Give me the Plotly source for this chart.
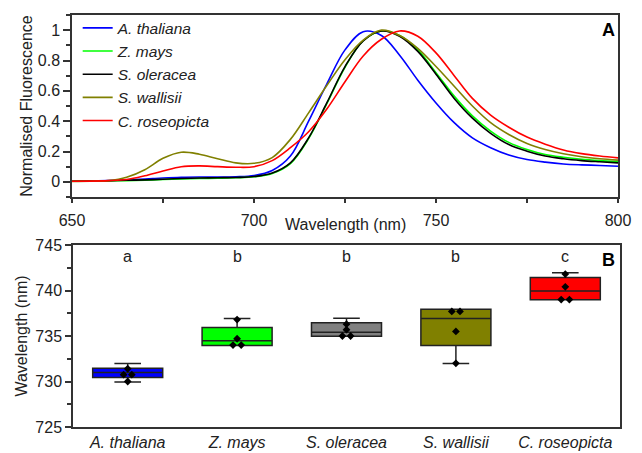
import plotly.graph_objects as go

# ---------------- data: panel A (emission spectra) ----------------
wavelength = list(range(650, 805, 5))

a_thaliana = [0.005, 0.006, 0.009, 0.013, 0.018, 0.025, 0.030, 0.032, 0.032, 0.034,
              0.042, 0.075, 0.17, 0.40, 0.645, 0.87, 0.99, 0.965, 0.835, 0.67,
              0.52, 0.39, 0.29, 0.225, 0.177, 0.147, 0.13, 0.118, 0.112, 0.108, 0.103]
z_mays = [0.004, 0.005, 0.006, 0.008, 0.011, 0.015, 0.019, 0.022, 0.024, 0.027,
          0.033, 0.055, 0.12, 0.285, 0.515, 0.755, 0.93, 0.995, 0.965, 0.87,
          0.72, 0.565, 0.435, 0.335, 0.26, 0.213, 0.18, 0.162, 0.149, 0.14, 0.133]
s_oleracea = [0.004, 0.005, 0.007, 0.010, 0.013, 0.017, 0.022, 0.025, 0.027, 0.029,
              0.035, 0.058, 0.125, 0.29, 0.52, 0.76, 0.93, 0.995, 0.96, 0.86,
              0.71, 0.55, 0.42, 0.32, 0.246, 0.202, 0.17, 0.152, 0.14, 0.132, 0.125]
s_wallisii = [0.003, 0.004, 0.008, 0.03, 0.08, 0.155, 0.195, 0.182, 0.152, 0.125,
              0.122, 0.16, 0.28, 0.455, 0.635, 0.805, 0.935, 1.0, 0.965, 0.88,
              0.76, 0.63, 0.50, 0.39, 0.312, 0.253, 0.213, 0.185, 0.165, 0.152, 0.143]
c_roseopicta = [0.004, 0.005, 0.008, 0.015, 0.04, 0.072, 0.10, 0.105, 0.10, 0.096,
                0.10, 0.14, 0.225, 0.33, 0.48, 0.66, 0.83, 0.94, 0.995, 0.96,
                0.85, 0.70, 0.55, 0.44, 0.36, 0.295, 0.248, 0.21, 0.186, 0.17, 0.158]

species = ["A. thaliana", "Z. mays", "S. oleracea", "S. wallisii", "C. roseopicta"]
spectra = [a_thaliana, z_mays, s_oleracea, s_wallisii, c_roseopicta]
line_colors = ["#0000FF", "#00FF00", "#000000", "#808000", "#FF0000"]
box_colors = ["#0000FF", "#00FF00", "#808080", "#808000", "#FF0000"]

# ---------------- data: panel B (peak wavelength boxes) ----------------
q1 = [730.45, 733.95, 734.98, 733.95, 738.98]
median = [731.0, 734.47, 735.42, 736.93, 739.94]
q3 = [731.46, 735.94, 736.45, 737.95, 741.44]
lower_fence = [729.95, 733.95, 734.98, 731.97, 738.98]
upper_fence = [731.97, 736.93, 736.96, 737.95, 741.96]
points = [
    [731.4, 730.75, 730.75, 730.0],
    [736.8, 734.7, 734.0, 734.0],
    [736.3, 735.7, 735.0, 735.0],
    [737.7, 737.7, 735.5, 732.0],
    [741.8, 740.4, 739.0, 739.0],
]
letters = ["a", "b", "b", "b", "c"]
letter_y = 743.7

FONT = "Arial, Liberation Sans, sans-serif"
AXC = "#333333"
TXT = "#222222"

fig = go.Figure()

for name, ys, col in zip(species, spectra, line_colors):
    fig.add_trace(go.Scatter(
        x=wavelength, y=ys, mode="lines", name=f"<i>{name}</i>",
        line=dict(color=col, width=1.6, shape="spline", smoothing=1.0),
        xaxis="x", yaxis="y"))

for i, col in enumerate(box_colors):
    fig.add_trace(go.Box(
        x=[i], q1=[q1[i]], median=[median[i]], q3=[q3[i]],
        lowerfence=[lower_fence[i]], upperfence=[upper_fence[i]],
        fillcolor=col, line=dict(color="#222222", width=1.5),
        width=0.64, whiskerwidth=0.38, boxpoints=False,
        showlegend=False, xaxis="x2", yaxis="y2"))

# points (duplicates side by side)
px, py = [], []
for i, vals in enumerate(points):
    seen = {}
    for v in vals:
        seen[v] = seen.get(v, 0) + 1
    for v, n in seen.items():
        for k in range(n):
            px.append(i + (k - (n - 1) / 2) * 0.075)
            py.append(v)
fig.add_trace(go.Scatter(
    x=px, y=py, mode="markers",
    marker=dict(symbol="diamond", size=6, color="black"),
    showlegend=False, xaxis="x2", yaxis="y2"))

annotations = [
    dict(text="<b>A</b>", x=608 / 642, y=1 - 30 / 453, xref="paper", yref="paper",
         xanchor="center", yanchor="middle",
         showarrow=False, font=dict(size=18, color="black", family=FONT)),
    dict(text="<b>B</b>", x=608 / 642, y=1 - 260 / 453, xref="paper", yref="paper",
         xanchor="center", yanchor="middle",
         showarrow=False, font=dict(size=18, color="black", family=FONT)),
    dict(text="Wavelength (nm)", x=345 / 642, y=1 - 224 / 453, xref="paper",
         yref="paper", xanchor="center", yanchor="middle", showarrow=False,
         font=dict(size=16, color=TXT, family=FONT)),
]
for i, t in enumerate(letters):
    annotations.append(dict(text=t, x=i, y=letter_y, xref="x2", yref="y2",
                            showarrow=False,
                            font=dict(size=16, color=TXT, family=FONT)))

axis_common = dict(showline=True, linecolor=AXC, linewidth=1.5, mirror=True,
                   showgrid=False, zeroline=False, ticks="outside",
                   tickcolor=AXC, tickwidth=1.5, automargin=False,
                   tickfont=dict(size=16, color=TXT, family=FONT))

fig.update_layout(
    width=642, height=453,
    margin=dict(l=0, r=0, t=0, b=0, autoexpand=False),
    paper_bgcolor="white", plot_bgcolor="white",
    font=dict(family=FONT, size=16, color=TXT),
    showlegend=True,
    legend=dict(x=0.121, y=0.975, xanchor="left", yanchor="top",
                bgcolor="rgba(0,0,0,0)",
                font=dict(size=15.5, family=FONT, color=TXT),
                tracegroupgap=0, itemwidth=30),
    xaxis=dict(domain=[72 / 642, 618 / 642], range=[650, 800],
               tickvals=[650, 700, 750, 800], ticklen=4, ticklabelstandoff=4,
               minor=dict(ticks="outside", dtick=25, tick0=650, ticklen=4,
                          tickcolor=AXC, tickwidth=1.5),
               anchor="y", **axis_common),
    yaxis=dict(domain=[1 - 197 / 453, 1 - 15 / 453], range=[-0.1, 1.1],
               tickvals=[0, 0.2, 0.4, 0.6, 0.8, 1],
               ticktext=["0", "0.2", "0.4", "0.6", "0.8", "1"], ticklen=7,
               minor=dict(ticks="outside", dtick=0.1, tick0=0, ticklen=4,
                          tickcolor=AXC, tickwidth=1.5),
               title=dict(text="Normalised Fluorescence", standoff=1,
                          font=dict(size=16, family=FONT)),
               anchor="x", **axis_common),
    xaxis2=dict(domain=[73 / 642, 620 / 642], range=[-0.5, 4.5],
                tickvals=[0, 1, 2, 3, 4],
                ticktext=[f"<i>{s}</i>" for s in species],
                ticklabelstandoff=0,
                anchor="y2", **{**axis_common, "ticks": ""}),
    yaxis2=dict(domain=[1 - 427 / 453, 1 - 245 / 453], range=[725, 745],
                tickvals=[725, 730, 735, 740, 745], ticklen=6,
                minor=dict(ticks="outside", dtick=2.5, tick0=725, ticklen=4,
                           tickcolor=AXC, tickwidth=1.5),
                title=dict(text="Wavelength (nm)", standoff=4,
                           font=dict(size=16, family=FONT)),
                anchor="x2", **axis_common),
    annotations=annotations,
)

fig.write_html("out.html")
